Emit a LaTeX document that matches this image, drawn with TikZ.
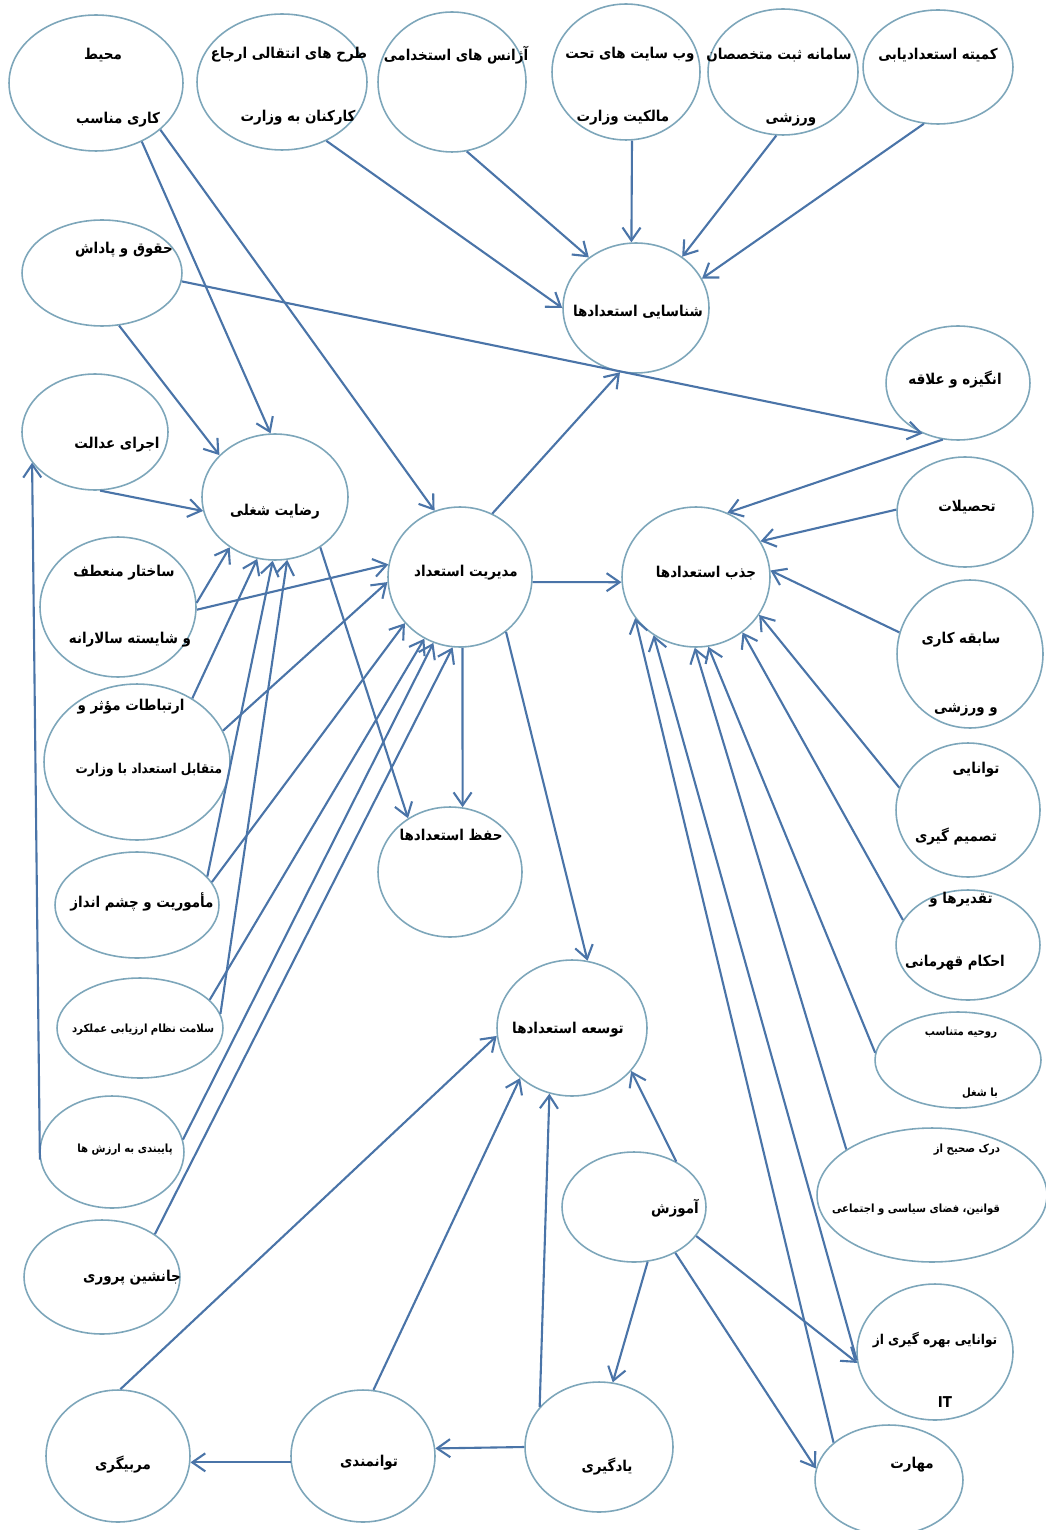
\documentclass[tikz,border=0pt]{standalone}
\usepackage{fontspec}
\newfontfamily\persianfont[Script=Arabic]{DejaVu Sans Condensed}
\TeXXeTstate=1
\usetikzlibrary{shapes.geometric, arrows.meta}
\definecolor{ringblue}{RGB}{125,166,186}
\definecolor{arrowblue}{RGB}{74,116,168}
\newcommand{\fa}[1]{\beginR #1\endR}
\tikzset{
	concept/.style={draw=ringblue, ellipse, line width=0.9pt, inner sep=0pt, fill=white},
	farsi/.style={font=\persianfont\bfseries\fontsize{8.5}{10}\selectfont, inner sep=0pt},
	farsimid/.style={farsi, font=\persianfont\bfseries\fontsize{7.7}{9}\selectfont},
	farsismall/.style={farsi, font=\persianfont\bfseries\fontsize{6.4}{8}\selectfont},
}
\begin{document}
\begin{tikzpicture}[x=0.02cm, y=-0.02cm]
	\useasboundingbox (0,0) rectangle (1045,1530);
	
	% top row
	\node (env) [concept, minimum width=3.48cm, minimum height=2.72cm] at (96,83) {};
	\node (envA) [farsi] at (103,55) {\fa{محیط}};
	\node (envB) [farsi] at (118,120) {\fa{کاری مناسب}};
	\node (transfer) [concept, minimum width=3.4cm, minimum height=2.72cm] at (282,82) {};
	\node (transferA) [farsi] at (289,55) {\fa{طرح های انتقالی ارجاع}};
	\node (transferB) [farsi] at (298,118) {\fa{کارکنان به وزارت}};
	\node (agency) [concept, minimum width=2.96cm, minimum height=2.8cm] at (452,82) {};
	\node (agencyA) [farsi] at (456,55) {\fa{آژانس های استخدامی}};
	\node (web) [concept, minimum width=2.96cm, minimum height=2.72cm] at (626,72) {};
	\node (webA) [farsi] at (630,55) {\fa{وب سایت های تحت}};
	\node (webB) [farsi] at (623,118) {\fa{مالکیت وزارت}};
	\node (sportsys) [concept, minimum width=3cm, minimum height=2.52cm] at (783,72) {};
	\node (sportsysA) [farsi] at (779,55) {\fa{سامانه ثبت متخصصان}};
	\node (sportsysB) [farsi] at (791,120) {\fa{ورزشی}};
	\node (committee) [concept, minimum width=3cm, minimum height=2.28cm] at (938,67) {};
	\node (committeeA) [farsi] at (938,55) {\fa{کمیته استعدادیابی}};
	
	% left column
	\node (salary) [concept, minimum width=3.2cm, minimum height=2.12cm] at (102,273) {};
	\node (salaryA) [farsi] at (124,250) {\fa{حقوق و پاداش}};
	\node (justice) [concept, minimum width=2.92cm, minimum height=2.32cm] at (95,432) {};
	\node (justiceA) [farsi] at (117,445) {\fa{اجرای عدالت}};
	\node (struct) [concept, minimum width=3.12cm, minimum height=2.8cm] at (118,607) {};
	\node (structA) [farsi] at (124,573) {\fa{ساختار منعطف}};
	\node (structB) [farsi] at (130,640) {\fa{و شایسته سالارانه}};
	\node (comm) [concept, minimum width=3.72cm, minimum height=3.12cm] at (137,762) {};
	\node (commA) [farsi] at (131,707) {\fa{ارتباطات مؤثر و}};
	\node (commB) [farsimid] at (149,770) {\fa{متقابل استعداد با وزارت}};
	\node (mission) [concept, minimum width=3.28cm, minimum height=2.12cm] at (137,905) {};
	\node (missionA) [farsi] at (142,902) {\fa{مأموریت و چشم انداز}};
	\node (health) [concept, minimum width=3.32cm, minimum height=2cm] at (140,1028) {};
	\node (healthA) [farsismall] at (143,1030) {\fa{سلامت نظام ارزیابی عملکرد}};
	\node (values) [concept, minimum width=2.88cm, minimum height=2.24cm] at (112,1152) {};
	\node (valuesA) [farsismall] at (125,1150) {\fa{پایبندی به ارزش ها}};
	\node (succ) [concept, minimum width=3.12cm, minimum height=2.28cm] at (102,1277) {};
	\node (succA) [farsi] at (132,1278) {\fa{جانشین پروری}};
	\node (coach) [concept, minimum width=2.88cm, minimum height=2.64cm] at (118,1456) {};
	\node (coachA) [farsi] at (123,1465) {\fa{مربیگری}};
	
	% middle
	\node (jobsat) [concept, minimum width=2.92cm, minimum height=2.52cm] at (275,497) {};
	\node (jobsatA) [farsi] at (275,512) {\fa{رضایت شغلی}};
	\node (ident) [concept, minimum width=2.92cm, minimum height=2.6cm] at (636,308) {};
	\node (identA) [farsi] at (638,312) {\fa{شناسایی استعدادها}};
	\node (tm) [concept, minimum width=2.88cm, minimum height=2.8cm] at (460,577) {};
	\node (tmA) [farsi] at (466,573) {\fa{مدیریت استعداد}};
	\node (attract) [concept, minimum width=2.96cm, minimum height=2.8cm] at (696,577) {};
	\node (attractA) [farsi] at (706,573) {\fa{جذب استعدادها}};
	\node (retain) [concept, minimum width=2.88cm, minimum height=2.6cm] at (450,872) {};
	\node (retainA) [farsi] at (451,835) {\fa{حفظ استعدادها}};
	\node (develop) [concept, minimum width=3cm, minimum height=2.72cm] at (572,1028) {};
	\node (developA) [farsi] at (568,1030) {\fa{توسعه استعدادها}};
	\node (edu) [concept, minimum width=2.88cm, minimum height=2.2cm] at (634,1207) {};
	\node (eduA) [farsi] at (675,1208) {\fa{آموزش}};
	\node (empower) [concept, minimum width=2.88cm, minimum height=2.64cm] at (363,1456) {};
	\node (empowerA) [farsi] at (369,1463) {\fa{توانمندی}};
	\node (learn) [concept, minimum width=2.96cm, minimum height=2.6cm] at (599,1447) {};
	\node (learnA) [farsi] at (607,1467) {\fa{یادگیری}};
	
	% right column
	\node (motiv) [concept, minimum width=2.88cm, minimum height=2.28cm] at (958,383) {};
	\node (motivA) [farsi] at (955,380) {\fa{انگیزه و علاقه}};
	\node (eduq) [concept, minimum width=2.72cm, minimum height=2.2cm] at (965,512) {};
	\node (eduqA) [farsi] at (967,507) {\fa{تحصیلات}};
	\node (exp) [concept, minimum width=2.92cm, minimum height=2.96cm] at (970,654) {};
	\node (expA) [farsi] at (961,640) {\fa{سابقه کاری}};
	\node (expB) [farsi] at (966,710) {\fa{و ورزشی}};
	\node (decision) [concept, minimum width=2.88cm, minimum height=2.68cm] at (968,810) {};
	\node (decisionA) [farsi] at (976,770) {\fa{توانایی}};
	\node (decisionB) [farsi] at (956,837) {\fa{تصمیم گیری}};
	\node (awards) [concept, minimum width=2.88cm, minimum height=2.2cm] at (968,945) {};
	\node (awardsA) [farsi] at (961,900) {\fa{تقدیرها و}};
	\node (awardsB) [farsi] at (955,963) {\fa{احکام قهرمانی}};
	\node (spirit) [concept, minimum width=3.32cm, minimum height=1.92cm] at (958,1060) {};
	\node (spiritA) [farsismall] at (961,1033) {\fa{روحیه متناسب}};
	\node (spiritB) [farsismall] at (980,1093) {\fa{با شغل}};
	\node (understand) [concept, minimum width=4.6cm, minimum height=2.68cm] at (932,1195) {};
	\node (understandA) [farsismall] at (967,1150) {\fa{درک صحیح از}};
	\node (understandB) [farsismall] at (916,1210) {\fa{قوانین، فضای سیاسی و اجتماعی}};
	\node (itab) [concept, minimum width=3.12cm, minimum height=2.72cm] at (935,1352) {};
	\node (itabA) [farsimid] at (935,1340) {\fa{توانایی بهره گیری از}};
	\node (itabB) [farsi] at (945,1402) {IT};
	\node (skill) [concept, minimum width=2.96cm, minimum height=2.2cm] at (889,1480) {};
	\node (skillA) [farsi] at (912,1465) {\fa{مهارت}};
	
	\begin{scope}[arrowblue, line width=1.2pt, -{Straight Barb[length=2.6mm, width=3.6mm]}]
		\draw (transfer.-53) -- (ident.180);
		\draw (agency.-78) -- (ident.133);
		\draw (web.-85) -- (ident.94);
		\draw (sportsys.-96) -- (ident.48);
		\draw (committee.-104) -- (ident.24);
		\draw (tm.63) -- (ident.256);
		
		\draw (salary.-6) -- (motiv.235);
		\draw (salary.-72) -- (jobsat.143);
		\draw (env.-52) -- (jobsat.94);
		\draw (env.-36) -- (tm.111);
		\draw (justice.-85) -- (jobsat.191);
		\draw (values.186) -- (justice.206);
		
		\draw (struct.3) -- (jobsat.228);
		\draw (struct.-2) -- (tm.170);
		\draw (comm.49) -- (jobsat.254);
		\draw (comm.20) -- (tm.184);
		\draw (mission.22) -- (jobsat.268);
		\draw (mission.17) -- (tm.220);
		\draw (health.10) -- (jobsat.281);
		\draw (health.22) -- (tm.240);
		\draw (values.10) -- (tm.248);
		\draw (succ.39) -- (tm.264);
		
		\draw (tm.-4) -- (attract.184);
		\draw (tm.-88) -- (retain.79);
		\draw (jobsat.-48) -- (retain.128);
		\draw (tm.-50) -- (develop.77);
		
		\draw (motiv.255) -- (attract.64);
		\draw (eduq.178) -- (attract.29);
		\draw (exp.163) -- (attract.5);
		\draw (decision.162) -- (attract.-31);
		\draw (awards.159) -- (attract.-50);
		\draw (spirit.175) -- (attract.-80);
		\draw (understand.152) -- (attract.269);
		\draw (itab.186) -- (attract.234);
		\draw (skill.146) -- (attract.214);
		
		\draw (coach.88) -- (develop.186);
		\draw (empower.81) -- (develop.224);
		\draw (learn.146) -- (develop.251);
		\draw (edu.47) -- (develop.-36);
		\draw (edu.-76) -- (learn.78);
		\draw (edu.-48) -- (skill.171);
		\draw (edu.-25) -- (itab.188);
		\draw (learn.180) -- (empower.6);
		\draw (empower.185) -- (coach.-5);
	\end{scope}
\end{tikzpicture}
\end{document}
